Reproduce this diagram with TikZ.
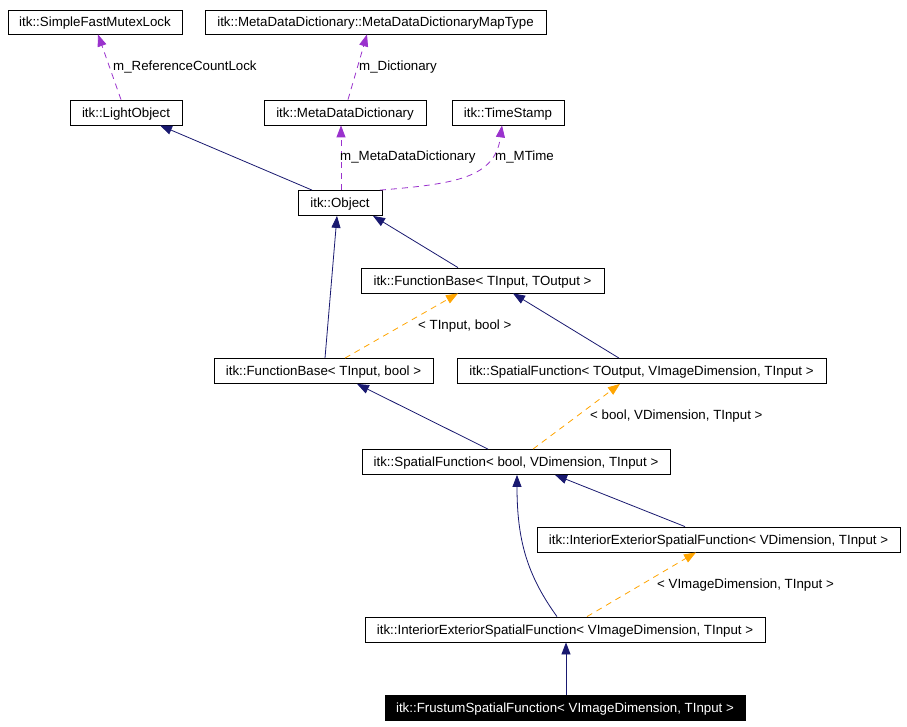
\documentclass[tikz,border=0pt]{standalone}
\usepackage{fontspec}
\setmainfont{Liberation Sans}
\usetikzlibrary{arrows.meta}
\definecolor{navy}{HTML}{191970}
\definecolor{purp}{HTML}{9A32CD}
\definecolor{orng}{HTML}{FFA500}
\begin{document}
\begin{tikzpicture}[x=1pt,y=-1pt,
  box/.style={draw=black, line width=0.8pt, minimum height=25pt, inner sep=0pt,
    text height=9.5pt, text depth=0pt,
    font=\fontsize{13.3}{15}\selectfont, fill=white},
  lbl/.style={anchor=west, inner sep=0pt, text height=9.5pt, text depth=0pt,
    font=\fontsize{13.3}{15}\selectfont},
  tip/.style={-{Triangle[length=12pt,width=9pt]}},
  inh/.style={tip, draw=navy, line width=0.8pt},
  usage/.style={tip, draw=purp, line width=0.8pt, dash pattern=on 6pt off 5pt},
  tmpl/.style={tip, draw=orng, line width=0.8pt, dash pattern=on 6pt off 5pt}]
\useasboundingbox (0,0) rectangle (907,727);
\fill[white] (0,0) rectangle (907,727);

\node[box, minimum width=174pt, minimum height=24pt] (sfml) at (95,22) {itk::SimpleFastMutexLock};
\node[box, minimum width=341pt, minimum height=24pt] (mapt) at (375.5,22) {itk::MetaDataDictionary::MetaDataDictionaryMapType};
\node[box, minimum width=112pt] (light) at (126,112.5) {itk::LightObject};
\node[box, minimum width=162pt] (mdd) at (345,112.5) {itk::MetaDataDictionary};
\node[box, minimum width=112pt] (ts) at (508,112.5) {itk::TimeStamp};
\node[box, minimum width=84pt] (obj) at (340,203) {itk::Object};
\node[box, minimum width=243pt] (fbto) at (482.5,280.5) {itk::FunctionBase< TInput, TOutput >};
\node[box, minimum width=219pt] (fbb) at (323.5,371) {itk::FunctionBase< TInput, bool >};
\node[box, minimum width=369pt] (sfto) at (641.5,371) {itk::SpatialFunction< TOutput, VImageDimension, TInput >};
\node[box, minimum width=308pt] (sfb) at (516,462) {itk::SpatialFunction< bool, VDimension, TInput >};
\node[box, minimum width=363pt] (iesfv) at (718.5,539.5) {itk::InteriorExteriorSpatialFunction< VDimension, TInput >};
\node[box, minimum width=400pt] (iesfi) at (565,629.5) {itk::InteriorExteriorSpatialFunction< VImageDimension, TInput >};
\node[box, minimum width=360pt, fill=black, text=white] (fr) at (565,707.5) {itk::FrustumSpatialFunction< VImageDimension, TInput >};

% usage (purple dashed)
\draw[usage] ([xshift=-5pt]light.north) -- ([xshift=3pt]sfml.south);
\node[lbl] (l1) at (113,66) {m\_ReferenceCountLock};
\draw[usage] ([xshift=3pt]mdd.north) -- ([xshift=-8.5pt]mapt.south);
\node[lbl] (l2) at (359,66) {m\_Dictionary};
\draw[usage] ([xshift=1pt]obj.north) -- ([xshift=-4pt]mdd.south);
\node[lbl] (l3) at (340,156) {m\_MetaDataDictionary};
\draw[usage] ([xshift=40pt]obj.north) .. controls (455,184) and (495,178) .. ([xshift=-6pt]ts.south);
\node[lbl] (l4) at (495,156) {m\_MTime};

% inheritance (navy)
\draw[inh] ([xshift=-28pt]obj.north) -- ([xshift=34pt]light.south);
\draw[inh] ([xshift=-24.5pt]fbto.north) -- ([xshift=33pt]obj.south);
\draw[inh] ([xshift=1.5pt]fbb.north) -- ([xshift=-3pt]obj.south);
\draw[inh] ([xshift=-22.5pt]sfto.north) -- ([xshift=30.5pt]fbto.south);
\draw[inh] ([xshift=-28pt]sfb.north) -- ([xshift=33.5pt]fbb.south);
\draw[inh] ([xshift=-8pt]iesfi.north) .. controls (527,575) and (517,540) .. ([xshift=1pt]sfb.south);
\draw[inh] ([xshift=-33.5pt]iesfv.north) -- ([xshift=39pt]sfb.south);
\draw[inh] ([xshift=1pt]fr.north) -- ([xshift=1pt]iesfi.south);

% template instantiation (orange dashed)
\draw[tmpl] ([xshift=21.5pt]fbb.north) -- ([xshift=-24.5pt]fbto.south);
\node[lbl] (l5) at (418,325) {< TInput, bool >};
\draw[tmpl] ([xshift=17pt]sfb.north) -- ([xshift=-21.5pt]sfto.south);
\node[lbl] (l6) at (590,415) {< bool, VDimension, TInput >};
\draw[tmpl] ([xshift=22pt]iesfi.north) -- ([xshift=-22.5pt]iesfv.south);
\node[lbl] (l7) at (657,584) {< VImageDimension, TInput >};
\end{tikzpicture}
\end{document}
